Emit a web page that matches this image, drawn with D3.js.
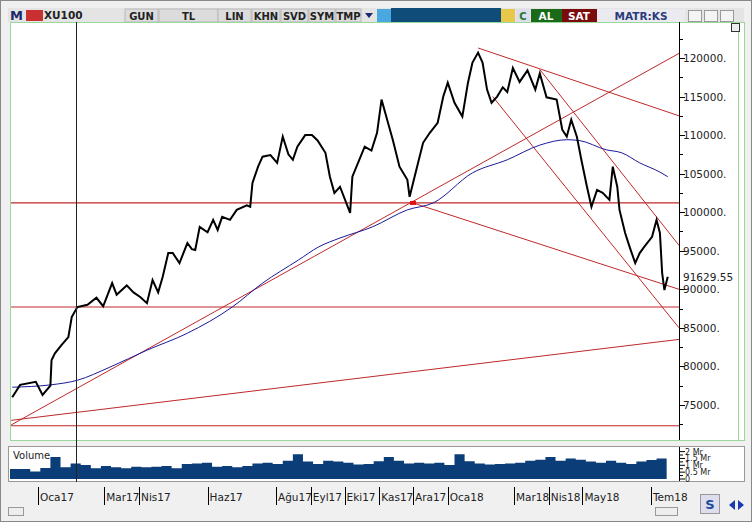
<!DOCTYPE html>
<html>
<head>
<meta charset="utf-8">
<script src="https://cdn.jsdelivr.net/npm/d3@7"></script>
<style>
  body { margin: 0; background: #f0f0f0; font-family: "DejaVu Sans", Verdana, sans-serif; }
  svg text { font-family: "DejaVu Sans", Verdana, sans-serif; }
</style>
</head>
<body>
<div id="chart"></div>
<script>
// ---- data ----
const priceDates = ["2016-12-09","2016-12-16","2016-12-30","2017-01-05","2017-01-12","2017-01-13","2017-01-16","2017-01-22","2017-01-28","2017-01-31",
  "2017-02-05","2017-02-14","2017-02-22","2017-02-28","2017-03-08","2017-03-12","2017-03-21","2017-03-27","2017-04-02","2017-04-08",
  "2017-04-13","2017-04-18","2017-04-22","2017-04-27","2017-05-01","2017-05-07","2017-05-14","2017-05-18","2017-05-21","2017-05-25",
  "2017-06-01","2017-06-06","2017-06-10","2017-06-14","2017-06-21","2017-06-27","2017-07-06","2017-07-09","2017-07-11","2017-07-16",
  "2017-07-20","2017-07-27","2017-08-02","2017-08-07","2017-08-12","2017-08-16","2017-08-20","2017-08-27","2017-09-02","2017-09-07",
  "2017-09-14","2017-09-18","2017-09-22","2017-09-27","2017-10-06","2017-10-08","2017-10-19","2017-10-25","2017-10-30","2017-11-03",
  "2017-11-08","2017-11-13","2017-11-19","2017-11-26","2017-11-28","2017-12-04","2017-12-10","2017-12-16","2017-12-23","2017-12-28",
  "2018-01-01","2018-01-07","2018-01-14","2018-01-19","2018-01-23","2018-01-28","2018-02-01","2018-02-05","2018-02-09","2018-02-14",
  "2018-02-19","2018-02-23","2018-02-28","2018-03-06","2018-03-13","2018-03-20","2018-03-24","2018-03-30","2018-04-08","2018-04-13",
  "2018-04-17","2018-04-21","2018-04-26","2018-04-30","2018-05-05","2018-05-09","2018-05-14","2018-05-19","2018-05-25","2018-05-28",
  "2018-06-01","2018-06-03","2018-06-08","2018-06-12","2018-06-17","2018-06-21","2018-06-25","2018-07-02","2018-07-06","2018-07-09",
  "2018-07-11","2018-07-13","2018-07-16"];
const priceValues = [76000,77600,78000,76300,77500,80800,81700,82800,83800,86400,
  87700,88000,88900,87800,90800,89300,90500,89600,89000,88200,
  91200,89600,91600,94700,94700,93400,96000,95200,95100,98100,
  97400,99000,97700,99400,99000,100300,100900,100700,103800,105900,
  107200,107400,106400,109800,107500,106800,108500,110000,110000,109300,
  107700,104600,102500,103300,99900,104600,108500,108000,110300,114600,
  112000,109400,105900,104200,102000,105500,109000,110300,111600,115000,
  116800,114200,112400,116800,119400,120700,119400,115900,114200,115000,
  116200,115600,118700,116900,118400,115900,118000,114900,114600,110700,
  109800,112000,109800,106800,103300,100700,102900,102500,101600,105900,
  103300,100300,97300,95500,93400,94700,95500,96800,99000,97300,
  92100,89900,91630];

const maDates = ["2016-12-09","2017-01-12","2017-02-05","2017-03-06","2017-04-08","2017-05-14","2017-06-23","2017-07-20","2017-08-21","2017-09-08",
  "2017-09-27","2017-10-26","2017-11-26","2017-12-19","2018-01-23","2018-02-23","2018-03-24","2018-04-17","2018-04-28","2018-05-22",
  "2018-06-05","2018-06-21","2018-07-09","2018-07-16"];
const maValues = [77300,77600,78200,79900,82100,84300,87700,90800,93800,95500,
  96650,98100,100300,101200,105100,106800,108700,109400,109300,108100,
  107700,106400,105200,104600];

// trend lines: [startDate, startValue, endDate, endValue]
const trendLines = [
  ["2016-12-08", 72400, "2018-07-26", 120600],
  ["2016-12-08", 73000, "2018-07-26", 83500],
  ["2017-12-01", 101200, "2018-07-26", 90000],
  ["2018-01-28", 121300, "2018-07-26", 112500],
  ["2018-03-24", 118500, "2018-07-26", 95700],
  ["2018-02-10", 115000, "2018-07-26", 85000]
];
const levels = [101200, 87700, 72300];

const volumeStart = "2016-12-07";
const volumeValues = [0.73,0.73,0.55,0.8,1.6,0.85,1.14,1.02,0.78,0.95,
  0.85,0.78,0.9,0.85,0.9,0.95,0.78,1.1,1.14,1.19,
  0.9,0.95,0.85,0.95,1.14,1.19,1.1,1.34,1.8,1.27,
  1.1,1.34,1.27,1.19,1.05,1.1,1.3,1.6,1.34,1.14,
  1.19,1.14,1.19,1.02,1.8,1.3,1.14,1.05,1.1,1.14,
  1.19,1.34,1.4,1.6,1.34,1.5,1.4,1.27,1.19,1.34,
  1.19,1.1,1.27,1.39,1.5,2.0];

const monthTicks = [["2017-01-01","Oca17"],["2017-03-01","Mar17"],["2017-04-01","Nis17"],["2017-06-01","Haz17"],
  ["2017-08-01","Ağu17"],["2017-09-01","Eyl17"],["2017-10-01","Eki17"],["2017-11-01","Kas17"],["2017-12-01","Ara17"],
  ["2018-01-01","Oca18"],["2018-03-01","Mar18"],["2018-04-01","Nis18"],["2018-05-01","May18"],["2018-07-01","Tem18"]];
const volTicks = [[2,"2 Mr"],[1.5,"1.5 Mr"],[1,"1 Mr"],[0.5,"0.5 Mr"],[0,"0"]];
const lastPrice = "91629.55";

// ---- svg ----
const W = 752, H = 522;
const svg = d3.select("#chart").append("svg").attr("width", W).attr("height", H);
const parse = d3.timeParse("%Y-%m-%d");

svg.append("rect").attr("width", W).attr("height", H).attr("fill", "#f0f0f0");
svg.append("rect").attr("x", 0.5).attr("y", 0.5).attr("width", W - 1).attr("height", H - 1)
  .attr("fill", "none").attr("stroke", "#888");

// ---- toolbar ----
const bar = svg.append("g");
bar.append("rect").attr("x", 8).attr("y", 8).attr("width", 736).attr("height", 14).attr("fill", "#e4e4e4");
bar.append("text").attr("x", 10).attr("y", 20).text("M").attr("fill", "#1a2a6c")
  .attr("font-weight", "bold").attr("font-size", 13);
bar.append("rect").attr("x", 26).attr("y", 10).attr("width", 17).attr("height", 11).attr("fill", "#c93030");
bar.append("text").attr("x", 44).attr("y", 19).text("XU100").attr("font-size", 10.5).attr("font-weight", "bold").attr("fill", "#222");
[["GUN",125,158],["TL",159,218],["LIN",218,251],["KHN",252,280],["SVD",281,308],["SYM",309,335],["TMP",336,361]].forEach(([t, a, b]) => {
  bar.append("rect").attr("x", a).attr("y", 9).attr("width", b - a).attr("height", 13)
    .attr("fill", "#dcdcdc").attr("stroke", "#b8b8b8");
  bar.append("text").attr("x", (a + b) / 2).attr("y", 19.5).attr("text-anchor", "middle")
    .attr("font-size", 10).attr("font-weight", "bold").attr("fill", "#222").text(t);
});
bar.append("path").attr("d", "M365,13 L373,13 L369,18 Z").attr("fill", "#1a2a6c");
bar.append("rect").attr("x", 377).attr("y", 9).attr("width", 14).attr("height", 13).attr("fill", "#4aa8e0");
bar.append("rect").attr("x", 391).attr("y", 8).attr("width", 110).attr("height", 14).attr("fill", "#0f4c7a");
bar.append("rect").attr("x", 501).attr("y", 9).attr("width", 14).attr("height", 13).attr("fill", "#e8c84a");
bar.append("rect").attr("x", 516).attr("y", 9).attr("width", 14).attr("height", 13).attr("fill", "#dde");
bar.append("text").attr("x", 523).attr("y", 20).attr("text-anchor", "middle").attr("font-size", 10)
  .attr("font-weight", "bold").attr("fill", "#1a7a2a").text("C");
bar.append("rect").attr("x", 531).attr("y", 9).attr("width", 31).attr("height", 13).attr("fill", "#1a6a1a");
bar.append("text").attr("x", 546).attr("y", 20).attr("text-anchor", "middle").attr("font-size", 10.5)
  .attr("font-weight", "bold").attr("fill", "#fff").text("AL");
bar.append("rect").attr("x", 562).attr("y", 9).attr("width", 35).attr("height", 13).attr("fill", "#7a0c0c");
bar.append("text").attr("x", 579).attr("y", 20).attr("text-anchor", "middle").attr("font-size", 10.5)
  .attr("font-weight", "bold").attr("fill", "#fff").text("SAT");
bar.append("rect").attr("x", 597).attr("y", 9).attr("width", 88).attr("height", 13).attr("fill", "#eaeaf0");
bar.append("text").attr("x", 641).attr("y", 20).attr("text-anchor", "middle").attr("font-size", 10.5)
  .attr("font-weight", "bold").attr("fill", "#2a3a7a").text("MATR:KS");
[688, 704, 720].forEach(x => bar.append("rect").attr("x", x + 0.5).attr("y", 10.5).attr("width", 13).attr("height", 11)
  .attr("fill", "#f4f4f4").attr("stroke", "#999"));

// ---- panels ----
const px0 = 10, px1 = 679, py0 = 22, py1 = 440;
svg.append("rect").attr("x", 10.5).attr("y", 22.5).attr("width", 734).attr("height", 418)
  .attr("fill", "#fff").attr("stroke", "#9ad89a");
svg.append("rect").attr("x", 8.5).attr("y", 446.5).attr("width", 736).attr("height", 35)
  .attr("fill", "#fff").attr("stroke", "#999");

// ---- scales ----
const x = d3.scaleTime().domain([parse("2016-12-07"), parse("2018-07-26")]).range([px0, px1]);
const y = d3.scaleLinear().domain([70450, 124670]).range([py1, py0]);
const yv = d3.scaleLinear().domain([0, 2]).range([479, 451.6]);

svg.append("defs").append("clipPath").attr("id", "clip")
  .append("rect").attr("x", 11).attr("y", 23).attr("width", px1 - 11).attr("height", py1 - 23);
const plot = svg.append("g").attr("clip-path", "url(#clip)");

// level lines
plot.selectAll(".lvl").data(levels).join("line")
  .attr("x1", px0).attr("x2", px1).attr("y1", d => y(d)).attr("y2", d => y(d))
  .attr("stroke", "#c0282a").attr("stroke-width", 1.2);

// trend lines
plot.selectAll(".tl").data(trendLines).join("line")
  .attr("x1", d => x(parse(d[0]))).attr("y1", d => y(d[1]))
  .attr("x2", d => x(parse(d[2]))).attr("y2", d => y(d[3]))
  .attr("stroke", "#c0282a").attr("stroke-width", 1);

// moving average
plot.append("path")
  .attr("d", d3.line().curve(d3.curveMonotoneX).x((d, i) => x(parse(maDates[i]))).y(d => y(d))(maValues))
  .attr("fill", "none").attr("stroke", "#1a1a9a").attr("stroke-width", 1);

// price
plot.append("path")
  .attr("d", d3.line().x((d, i) => x(parse(priceDates[i]))).y(d => y(d))(priceValues))
  .attr("fill", "none").attr("stroke", "#000").attr("stroke-width", 2);

plot.append("rect").attr("x", x(parse("2017-12-01")) - 3).attr("y", y(101200) - 2)
  .attr("width", 6).attr("height", 4).attr("fill", "#e01010");

// ---- price axis ----
const ax = svg.append("g");
ax.append("line").attr("x1", px1 + 0.5).attr("x2", px1 + 0.5).attr("y1", py0).attr("y2", py1).attr("stroke", "#000");
const yTicks = d3.range(72500, 124000, 2500);
ax.selectAll(".yt").data(yTicks).join("line")
  .attr("x1", px1).attr("x2", d => d % 5000 === 0 ? px1 + 6 : px1 + 4)
  .attr("y1", d => Math.round(y(d)) + 0.5).attr("y2", d => Math.round(y(d)) + 0.5).attr("stroke", "#000");
ax.selectAll(".yl").data(yTicks.filter(d => d % 5000 === 0)).join("text")
  .attr("x", px1 + 4).attr("y", d => y(d) + 4).attr("font-size", 10.5).attr("fill", "#222")
  .text(d => d + ".");
ax.append("rect").attr("x", px1 + 1).attr("y", y(91630) - 7).attr("width", 64).attr("height", 13).attr("fill", "#fff");
ax.append("text").attr("x", px1 + 4).attr("y", y(91630) + 4).attr("font-size", 10.5).attr("fill", "#222").text(lastPrice);
svg.append("line").attr("x1", 738.5).attr("x2", 738.5).attr("y1", 22).attr("y2", 440).attr("stroke", "#9ad89a");
svg.append("rect").attr("x", 731.5).attr("y", 23.5).attr("width", 8).attr("height", 8).attr("fill", "#eee").attr("stroke", "#333");

// ---- volume ----
const vDates = volumeValues.map((d, i) => d3.timeDay.offset(parse(volumeStart), 9 * i));
svg.append("path")
  .attr("d", d3.area().curve(d3.curveStepAfter).x((d, i) => x(vDates[i])).y0(479).y1(d => yv(d))(volumeValues))
  .attr("fill", "#0b3d78");
svg.append("text").attr("x", 13).attr("y", 459).attr("font-size", 10).attr("fill", "#222").text("Volume");
svg.append("line").attr("x1", px1 + 0.5).attr("x2", px1 + 0.5).attr("y1", 447).attr("y2", 481).attr("stroke", "#000");
svg.selectAll(".vt").data(d3.range(0, 2.01, 0.25)).join("line")
  .attr("x1", px1).attr("x2", d => d % 0.5 === 0 ? px1 + 6 : px1 + 4)
  .attr("y1", d => yv(d)).attr("y2", d => yv(d)).attr("stroke", "#000");
svg.selectAll(".vl").data(volTicks).join("text")
  .attr("x", px1 + 6).attr("y", d => yv(d[0]) + 3).attr("font-size", 8).attr("fill", "#222").text(d => d[1]);

// cursor
svg.append("line").attr("x1", 76.5).attr("x2", 76.5).attr("y1", 22).attr("y2", 482).attr("stroke", "#222");

// ---- time axis ----
const tg = svg.append("g");
tg.selectAll("line").data(monthTicks).join("line")
  .attr("x1", d => Math.round(x(parse(d[0]))) + 0.5).attr("x2", d => Math.round(x(parse(d[0]))) + 0.5)
  .attr("y1", 487).attr("y2", 505).attr("stroke", "#000");
tg.selectAll("text").data(monthTicks).join("text")
  .attr("x", d => x(parse(d[0])) + 2).attr("y", 501).attr("font-size", 10.5).attr("fill", "#222").text(d => d[1]);

// scrollbar + buttons
svg.append("rect").attr("x", 8.5).attr("y", 507.5).attr("width", 15).attr("height", 8).attr("fill", "#eee").attr("stroke", "#999");
svg.append("rect").attr("x", 655.5).attr("y", 507.5).attr("width", 22).attr("height", 8).attr("fill", "#eee").attr("stroke", "#999");
svg.append("rect").attr("x", 700.5).attr("y", 494.5).attr("width", 19).attr("height", 19).attr("fill", "#dde").attr("stroke", "#999");
svg.append("text").attr("x", 710).attr("y", 509).attr("text-anchor", "middle").attr("font-size", 13)
  .attr("font-weight", "bold").attr("fill", "#1a4a9a").text("S");
svg.append("path").attr("d", "M729,505 L735,500 L735,510 Z").attr("fill", "#1a3ab0");
svg.append("path").attr("d", "M744,505 L738,500 L738,510 Z").attr("fill", "#1a3ab0");
</script>
</body>
</html>
